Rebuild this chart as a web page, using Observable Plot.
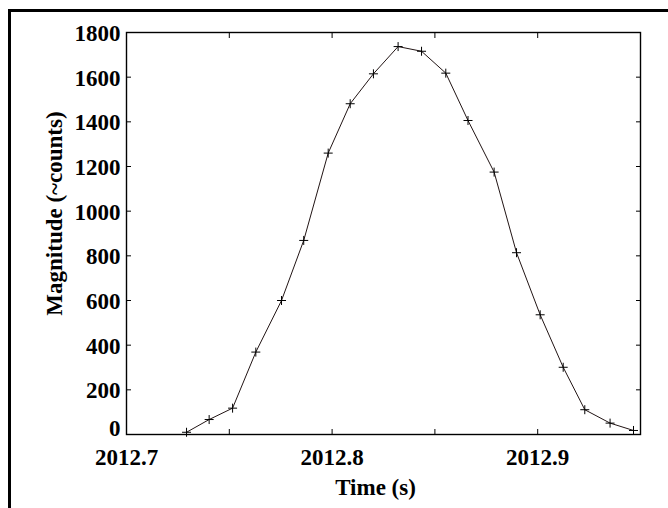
<!DOCTYPE html>
<html><head><meta charset="utf-8">
<script src="https://cdn.jsdelivr.net/npm/d3@7"></script>
<script src="https://cdn.jsdelivr.net/npm/@observablehq/plot@0.6"></script>
<style>
html,body{margin:0;padding:0;background:#fff;}
#wrap{position:relative;width:668px;height:508px;overflow:hidden;}
#chart{position:absolute;left:0;top:0;}
#border{position:absolute;left:8px;top:9px;width:700px;height:600px;border:3px solid #000;box-sizing:border-box;z-index:2;pointer-events:none;}
</style></head><body>
<div id="wrap"><div id="chart"></div><div id="border"></div></div>
<script>
const times = [2012.7292, 2012.7402, 2012.7516, 2012.7629, 2012.7754, 2012.7862, 2012.7981, 2012.8088, 2012.8201, 2012.8321,
               2012.8435, 2012.8553, 2012.8661, 2012.8788, 2012.8897, 2012.9012, 2012.9124, 2012.9229, 2012.9352, 2012.9466];
const counts = [10, 67, 118, 369, 600, 869, 1260, 1481, 1615, 1737,
                1716, 1618, 1406, 1175, 814, 536, 301, 111, 51, 18];
const xTickLabels = [2012.7, 2012.8, 2012.9];
const xTickMarks = [2012.7, 2012.75, 2012.8, 2012.85, 2012.9, 2012.95];
const yTickLabels = [200, 400, 600, 800, 1000, 1200, 1400, 1600, 1800];
const yZeroLabel = [0];
const yTickMarks = [0, 200, 400, 600, 800, 1000, 1200, 1400, 1600, 1800];
const xTitle = "Time (s)";
const yTitle = "Magnitude (~counts)";

const data = times.map((t, i) => ({t, v: counts[i]}));

const plusSymbol = {
  draw(ctx, size) {
    const s = Math.sqrt(size / Math.PI);
    ctx.moveTo(-s, 0); ctx.lineTo(s, 0);
    ctx.moveTo(0, -s); ctx.lineTo(0, s);
  }
};

const blank = () => "";
const FS = 23;

const chart = Plot.plot({
  width: 668,
  height: 508,
  marginLeft: 126,
  marginRight: 28,
  marginTop: 32,
  marginBottom: 74,
  style: {fontFamily: "'Liberation Serif', 'Times New Roman', serif", fontSize: FS + "px", fontWeight: "bold", color: "#000", background: "transparent"},
  x: {domain: [2012.7, 2012.95]},
  y: {domain: [0, 1800]},
  marks: [
    Plot.axisX({anchor: "bottom", ticks: xTickMarks, tickSize: -5, tickFormat: blank, label: null, strokeWidth: 1}),
    Plot.axisX({anchor: "top", ticks: xTickMarks, tickSize: -5, tickFormat: blank, label: null, strokeWidth: 1}),
    Plot.axisY({anchor: "left", ticks: yTickMarks, tickSize: -5, tickFormat: blank, label: null, strokeWidth: 1}),
    Plot.axisY({anchor: "right", ticks: yTickMarks, tickSize: -5, tickFormat: blank, label: null, strokeWidth: 1}),
    Plot.axisX({anchor: "bottom", ticks: xTickLabels, tickSize: 0, tickPadding: 14, tickFormat: d3.format(".1f"), label: null, fontSize: FS}),
    Plot.axisY({anchor: "left", ticks: yTickLabels, tickSize: 0, tickPadding: 6, label: null, fontSize: FS, dy: 1, tickFormat: d => String(d)}),
    Plot.axisY({anchor: "left", ticks: yZeroLabel, tickSize: 0, tickPadding: 6, label: null, fontSize: FS, dy: -6, tickFormat: d => String(d)}),
    Plot.frame({stroke: "#000", strokeWidth: 1.4}),
    Plot.line(data, {x: "t", y: "v", stroke: "#221515", strokeWidth: 1}),
    Plot.dot(data, {x: "t", y: "v", symbol: plusSymbol, r: 4.5, stroke: "#000", fill: "none", strokeWidth: 1}),
    Plot.text([xTitle], {frameAnchor: "bottom", textAnchor: "middle", lineAnchor: "middle", dx: -8, dy: 53, fontSize: FS, fontWeight: "bold", fill: "#000"}),
    Plot.text([yTitle], {frameAnchor: "left", textAnchor: "middle", lineAnchor: "middle", rotate: -90, dx: -72, dy: -20, fontSize: FS, fontWeight: "bold", fill: "#000"})
  ]
});
document.getElementById("chart").appendChild(chart);
</script>
</body></html>
